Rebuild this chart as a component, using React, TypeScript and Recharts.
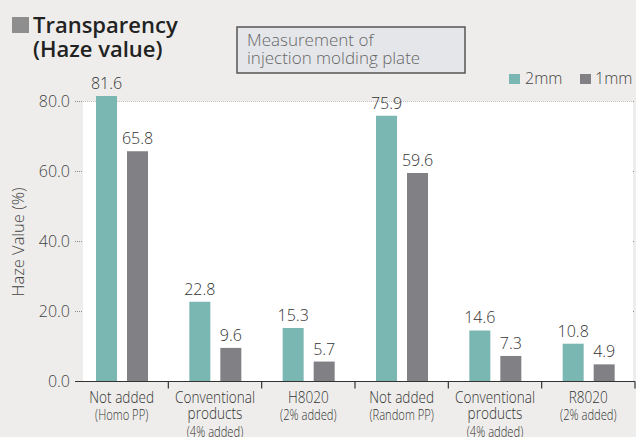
import React from 'react';
import { BarChart, Bar, XAxis, YAxis, CartesianGrid, ReferenceArea, LabelList } from 'recharts';

const categories = ['Not added', 'Conventional products', 'H8020', 'Not added ', 'Conventional products ', 'R8020'];
const labelMain = [['Not added'], ['Conventional', 'products'], ['H8020'], ['Not added'], ['Conventional', 'products'], ['R8020']];
const labelSub = ['(Homo PP)', '(4% added)', '(2% added)', '(Random PP)', '(4% added)', '(2% added)'];
const haze2mm = [81.6, 22.8, 15.3, 75.9, 14.6, 10.8];
const haze1mm = [65.8, 9.6, 5.7, 59.6, 7.3, 4.9];
const yTicks = [0, 20, 40, 60, 80];
const gridValues = [20, 40, 60, 80];
const seriesNames = ['2mm', '1mm'];

const data = categories.map((c, i) => ({ name: c, idx: i, v2: haze2mm[i], v1: haze1mm[i] }));

const W = 636;
const H = 437;
const LEFT = 75;
const RIGHT_MARGIN = 1;
const BAND = (W - LEFT - RIGHT_MARGIN) / categories.length;
const TEAL = '#7ab7b3';
const GRAY = '#808085';
const FONT = "'Open Sans', 'Noto Sans', sans-serif";
const LIGHT = 300;

const XTick = (props: any) => {
  const { x, y, index } = props;
  const i = typeof index === 'number' ? index : props.payload?.index ?? 0;
  const main = labelMain[i] || [];
  const sub = labelSub[i];
  const lines: { t: string; small: boolean }[] = main.map((t) => ({ t, small: false }));
  if (sub) lines.push({ t: sub, small: true });
  const baselines = [21.5, 37, 55];
  return (
    <g>
      <line x1={x + BAND / 2} x2={x + BAND / 2} y1={y} y2={y + 7} stroke="#333" strokeWidth={1.2} />
      <g transform={`translate(${x},${y})`}>
        {lines.map((l, k) => (
          <text
            key={k}
            x={0}
            y={0}
            transform={`translate(0,${baselines[k] + (l.small && k === 1 ? 1.5 : 0)}) scale(0.8,1)`}
            textAnchor="middle"
            fontSize={l.small ? 14 : 17}
            fontWeight={LIGHT}
            fill="#333"
            fontFamily={FONT}
          >
            {l.t}
          </text>
        ))}
      </g>
    </g>
  );
};

const WhiteArea = (p: any) => (
  <rect x={p.x + 8} y={p.y} width={p.width - 10} height={p.height} fill="#ffffff" />
);

const YLabel = () => (
  <text
    transform={`translate(24,242) rotate(-90)`}
    textAnchor="middle"
    fontSize={16.5}
    fontWeight={LIGHT}
    fill="#444"
    fontFamily={FONT}
  >
    Haze Value (%)
  </text>
);

export default function App() {
  return (
    <div style={{ position: 'absolute', left: 0, top: 0, width: W, height: H, background: '#eeedeb', fontFamily: FONT, overflow: 'hidden' }}>
      <BarChart
        width={W}
        height={H}
        data={data}
        margin={{ top: 84, right: RIGHT_MARGIN, bottom: 0, left: 0 }}
        barSize={21}
        barGap={10}
      >
        <ReferenceArea y1={0} y2={80} ifOverflow="visible" shape={WhiteArea} fill="#fff" fillOpacity={1} stroke="none" />
        <CartesianGrid vertical={false} horizontalValues={gridValues} stroke="#8a8a8a" strokeDasharray="1 1" />
        <XAxis
          dataKey="name"
          height={55.5}
          tickLine={false}
          tickSize={0}
          tickMargin={0}
          interval={0}
          axisLine={{ stroke: '#333', strokeWidth: 1.2 }}
          tick={<XTick />}
        />
        <YAxis
          width={LEFT}
          domain={[0, 85]}
          ticks={yTicks}
          tickFormatter={(v: number) => v.toFixed(1)}
          axisLine={false}
          tickLine={false}
          tickSize={0}
          tickMargin={5}
          tick={{ fontSize: 16, fill: '#444', fontFamily: FONT, fontWeight: LIGHT }}
          label={<YLabel />}
        />
        <Bar dataKey="v2" name={seriesNames[0]} fill={TEAL} isAnimationActive={false}>
          <LabelList dataKey="v2" position="top" offset={7} fontSize={16} fontWeight={LIGHT} fill="#333" fontFamily={FONT} formatter={(v: any) => Number(v).toFixed(1)} />
        </Bar>
        <Bar dataKey="v1" name={seriesNames[1]} fill={GRAY} isAnimationActive={false}>
          <LabelList dataKey="v1" position="top" offset={7} fontSize={16} fontWeight={LIGHT} fill="#333" fontFamily={FONT} formatter={(v: any) => Number(v).toFixed(1)} />
        </Bar>
      </BarChart>
      <svg width={W} height={H} style={{ position: 'absolute', left: 0, top: 0, pointerEvents: 'none' }}>
        <rect x={12} y={17} width={17} height={16} fill="#8e8e8e" />
        <text x={33} y={33} fontSize={22} fontWeight={600} fill="#222" fontFamily={FONT}>Transparency</text>
        <text x={33} y={57} fontSize={22} fontWeight={600} fill="#222" fontFamily={FONT}>(Haze value)</text>
        <rect x={237} y={27} width={228} height={46} fill="#e5e6ea" stroke="#555" strokeWidth={1.5} />
        <text x={247} y={46} fontSize={17} fontWeight={LIGHT} fill="#666" fontFamily={FONT}>Measurement of</text>
        <text x={247} y={64} fontSize={17} fontWeight={LIGHT} fill="#666" fontFamily={FONT}>injection molding plate</text>
        <rect x={509} y={74} width={11} height={10} fill={TEAL} />
        <text x={525} y={84} fontSize={16} fontWeight={LIGHT} fill="#444" fontFamily={FONT}>{seriesNames[0]}</text>
        <rect x={580} y={74} width={11} height={10} fill={GRAY} />
        <text x={595} y={84} fontSize={16} fontWeight={LIGHT} fill="#444" fontFamily={FONT}>{seriesNames[1]}</text>
      </svg>
    </div>
  );
}
